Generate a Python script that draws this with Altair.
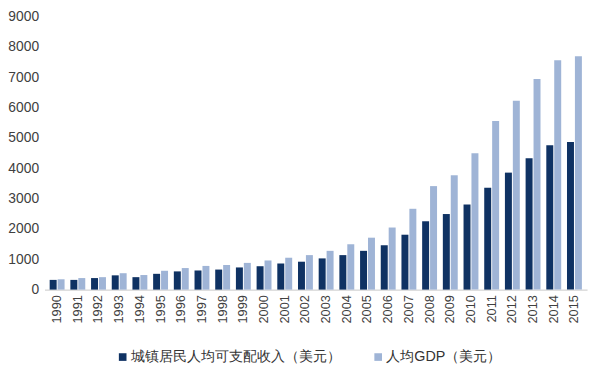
import altair as alt
import pandas as pd

years = [str(y) for y in range(1990, 2016)]
income = [320, 320, 380, 470, 410, 520, 600, 630, 660, 730, 770, 860,
          919, 1028, 1136, 1277, 1461, 1808, 2251, 2489, 2803, 3355, 3853, 4329, 4751, 4860]
gdp = [340, 380, 410, 540, 480, 620, 710, 780, 810, 880, 960, 1050,
       1136, 1277, 1494, 1710, 2045, 2662, 3409, 3766, 4491, 5552, 6223, 6937, 7554, 7684]
series_names = ["城镇居民人均可支配收入（美元）", "人均GDP（美元）"]
colors = ["#0f3263", "#9fb4d6"]

rows = []
for i, y in enumerate(years):
    rows.append({"year": y, "series": series_names[0], "value": income[i]})
    rows.append({"year": y, "series": series_names[1], "value": gdp[i]})
df = pd.DataFrame(rows)

FONT = "Liberation Sans"

chart = alt.Chart(df).mark_bar().encode(
    x=alt.X("year:N", title=None, sort=years,
            scale=alt.Scale(paddingInner=0.28, paddingOuter=0.25),
            axis=alt.Axis(labelAngle=-90, labelFontSize=13, labelColor="#404040",
                          ticks=False, domainColor="#c8c8c8", labelPadding=5,
                          labelFont=FONT)),
    xOffset=alt.XOffset("series:N", sort=series_names,
                        scale=alt.Scale(paddingInner=0.12)),
    y=alt.Y("value:Q", title=None,
            scale=alt.Scale(domain=[0, 9000]),
            axis=alt.Axis(values=list(range(0, 9001, 1000)), format="d", grid=False,
                          domain=False, ticks=False, labelFontSize=14,
                          labelColor="#404040", labelPadding=6, labelFont=FONT)),
    color=alt.Color("series:N", sort=series_names,
                    scale=alt.Scale(domain=series_names, range=colors),
                    legend=alt.Legend(title=None, orient="none", direction="horizontal",
                                      legendX=72, legendY=338,
                                      symbolType="square", symbolSize=60,
                                      symbolStrokeWidth=0, labelLimit=0,
                                      labelFontSize=14.5, labelColor="#333333",
                                      labelFont=FONT, columnPadding=18,
                                      labelOffset=1)),
).properties(
    width=550, height=277,
    autosize=alt.AutoSizeParams(type="none"),
    padding={"left": 37, "top": 6, "right": 5, "bottom": 77},
).configure_view(stroke=None)

chart.save("out.html", embed_options={"renderer": "svg", "actions": False})
